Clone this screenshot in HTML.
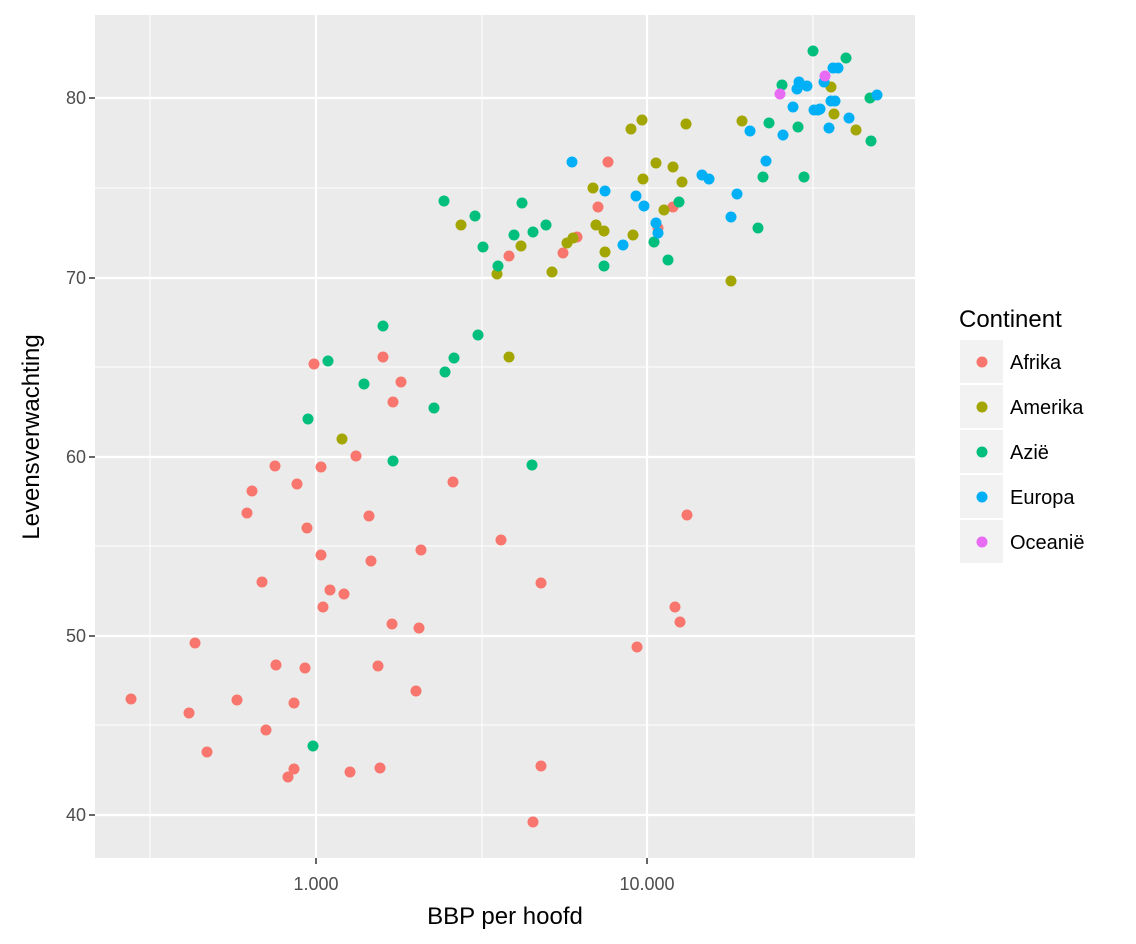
<!DOCTYPE html>
<html><head><meta charset="utf-8"><style>body{margin:0;background:#fff}svg{display:block}text{font-family:"Liberation Sans",sans-serif}</style></head><body>
<svg width="1136" height="944" xmlns="http://www.w3.org/2000/svg">
<rect x="95" y="15" width="820" height="843" fill="#EBEBEB"/>
<g stroke="#fff" stroke-width="1">
<line x1="95" x2="915" y1="188" y2="188"/><line x1="95" x2="915" y1="367" y2="367"/><line x1="95" x2="915" y1="546" y2="546"/><line x1="95" x2="915" y1="725" y2="725"/>
<line y1="15" y2="858" x1="150" x2="150"/><line y1="15" y2="858" x1="482" x2="482"/><line y1="15" y2="858" x1="813" x2="813"/>
</g>
<g stroke="#fff" stroke-width="2.2">
<line x1="95" x2="915" y1="98" y2="98"/><line x1="95" x2="915" y1="278" y2="278"/><line x1="95" x2="915" y1="457" y2="457"/><line x1="95" x2="915" y1="636" y2="636"/><line x1="95" x2="915" y1="815" y2="815"/>
<line y1="15" y2="858" x1="316" x2="316"/><line y1="15" y2="858" x1="647" x2="647"/>
</g>
<g stroke="#333" stroke-width="1.5">
<line x1="89" x2="95" y1="98" y2="98"/><line x1="89" x2="95" y1="278" y2="278"/><line x1="89" x2="95" y1="457" y2="457"/><line x1="89" x2="95" y1="636" y2="636"/><line x1="89" x2="95" y1="815" y2="815"/>
<line y1="858" y2="864" x1="316" x2="316"/><line y1="858" y2="864" x1="647" x2="647"/>
</g>
<g fill="#4D4D4D" font-size="18" text-anchor="end">
<text x="86" y="104">80</text><text x="86" y="284">70</text><text x="86" y="463">60</text><text x="86" y="642">50</text><text x="86" y="821">40</text>
</g>
<g fill="#4D4D4D" font-size="18" text-anchor="middle">
<text x="316" y="890">1.000</text><text x="647" y="890">10.000</text>
</g>
<text x="505" y="924" font-size="24" text-anchor="middle" fill="#000">BBP per hoofd</text>
<text transform="translate(39,437) rotate(-90)" font-size="24" text-anchor="middle" fill="#000">Levensverwachting</text>
<g fill="#F8766D">
<circle cx="131" cy="699" r="5.5"/><circle cx="189" cy="713" r="5.5"/><circle cx="195" cy="643" r="5.5"/><circle cx="207" cy="752" r="5.5"/><circle cx="237" cy="700" r="5.5"/><circle cx="266" cy="730" r="5.5"/><circle cx="262" cy="582" r="5.5"/><circle cx="247" cy="513" r="5.5"/><circle cx="252" cy="491" r="5.5"/><circle cx="275" cy="466" r="5.5"/><circle cx="288" cy="777" r="5.5"/><circle cx="294" cy="769" r="5.5"/><circle cx="297" cy="484" r="5.5"/><circle cx="307" cy="528" r="5.5"/><circle cx="305" cy="668" r="5.5"/><circle cx="294" cy="703" r="5.5"/><circle cx="276" cy="665" r="5.5"/><circle cx="314" cy="364" r="5.5"/><circle cx="321" cy="467" r="5.5"/><circle cx="321" cy="555" r="5.5"/><circle cx="323" cy="607" r="5.5"/><circle cx="330" cy="590" r="5.5"/><circle cx="344" cy="594" r="5.5"/><circle cx="356" cy="456" r="5.5"/><circle cx="350" cy="772" r="5.5"/><circle cx="369" cy="516" r="5.5"/><circle cx="371" cy="561" r="5.5"/><circle cx="378" cy="666" r="5.5"/><circle cx="383" cy="357" r="5.5"/><circle cx="393" cy="402" r="5.5"/><circle cx="401" cy="382" r="5.5"/><circle cx="392" cy="624" r="5.5"/><circle cx="380" cy="768" r="5.5"/><circle cx="421" cy="550" r="5.5"/><circle cx="419" cy="628" r="5.5"/><circle cx="416" cy="691" r="5.5"/><circle cx="453" cy="482" r="5.5"/><circle cx="501" cy="540" r="5.5"/><circle cx="509" cy="256" r="5.5"/><circle cx="541" cy="583" r="5.5"/><circle cx="541" cy="766" r="5.5"/><circle cx="533" cy="822" r="5.5"/><circle cx="563" cy="253" r="5.5"/><circle cx="577" cy="237" r="5.5"/><circle cx="598" cy="207" r="5.5"/><circle cx="608" cy="162" r="5.5"/><circle cx="637" cy="647" r="5.5"/><circle cx="658" cy="228" r="5.5"/><circle cx="673" cy="207" r="5.5"/><circle cx="675" cy="607" r="5.5"/><circle cx="680" cy="622" r="5.5"/><circle cx="687" cy="515" r="5.5"/>
</g>
<g fill="#A3A500">
<circle cx="342" cy="439" r="5.5"/><circle cx="461" cy="225" r="5.5"/><circle cx="497" cy="274" r="5.5"/><circle cx="509" cy="357" r="5.5"/><circle cx="521" cy="246" r="5.5"/><circle cx="552" cy="272" r="5.5"/><circle cx="567" cy="243" r="5.5"/><circle cx="573" cy="238" r="5.5"/><circle cx="593" cy="188" r="5.5"/><circle cx="596" cy="225" r="5.5"/><circle cx="604" cy="231" r="5.5"/><circle cx="605" cy="252" r="5.5"/><circle cx="633" cy="235" r="5.5"/><circle cx="631" cy="129" r="5.5"/><circle cx="642" cy="120" r="5.5"/><circle cx="643" cy="179" r="5.5"/><circle cx="656" cy="163" r="5.5"/><circle cx="664" cy="210" r="5.5"/><circle cx="673" cy="167" r="5.5"/><circle cx="682" cy="182" r="5.5"/><circle cx="686" cy="124" r="5.5"/><circle cx="731" cy="281" r="5.5"/><circle cx="742" cy="121" r="5.5"/><circle cx="831" cy="87" r="5.5"/><circle cx="856" cy="130" r="5.5"/><circle cx="834" cy="114" r="5.5"/>
</g>
<g fill="#00BF7D">
<circle cx="308" cy="419" r="5.5"/><circle cx="313" cy="746" r="5.5"/><circle cx="328" cy="361" r="5.5"/><circle cx="364" cy="384" r="5.5"/><circle cx="383" cy="326" r="5.5"/><circle cx="393" cy="461" r="5.5"/><circle cx="434" cy="408" r="5.5"/><circle cx="445" cy="372" r="5.5"/><circle cx="444" cy="201" r="5.5"/><circle cx="454" cy="358" r="5.5"/><circle cx="475" cy="216" r="5.5"/><circle cx="478" cy="335" r="5.5"/><circle cx="483" cy="247" r="5.5"/><circle cx="498" cy="266" r="5.5"/><circle cx="514" cy="235" r="5.5"/><circle cx="522" cy="203" r="5.5"/><circle cx="532" cy="465" r="5.5"/><circle cx="533" cy="232" r="5.5"/><circle cx="546" cy="225" r="5.5"/><circle cx="604" cy="266" r="5.5"/><circle cx="654" cy="242" r="5.5"/><circle cx="668" cy="260" r="5.5"/><circle cx="679" cy="202" r="5.5"/><circle cx="758" cy="228" r="5.5"/><circle cx="763" cy="177" r="5.5"/><circle cx="769" cy="123" r="5.5"/><circle cx="782" cy="85" r="5.5"/><circle cx="798" cy="127" r="5.5"/><circle cx="804" cy="177" r="5.5"/><circle cx="813" cy="51" r="5.5"/><circle cx="846" cy="58" r="5.5"/><circle cx="870" cy="98" r="5.5"/><circle cx="871" cy="141" r="5.5"/>
</g>
<g fill="#00B0F6">
<circle cx="572" cy="162" r="5.5"/><circle cx="605" cy="191" r="5.5"/><circle cx="623" cy="245" r="5.5"/><circle cx="636" cy="196" r="5.5"/><circle cx="644" cy="206" r="5.5"/><circle cx="656" cy="223" r="5.5"/><circle cx="658" cy="233" r="5.5"/><circle cx="702" cy="175" r="5.5"/><circle cx="709" cy="179" r="5.5"/><circle cx="731" cy="217" r="5.5"/><circle cx="737" cy="194" r="5.5"/><circle cx="750" cy="131" r="5.5"/><circle cx="766" cy="161" r="5.5"/><circle cx="783" cy="135" r="5.5"/><circle cx="793" cy="107" r="5.5"/><circle cx="799" cy="82" r="5.5"/><circle cx="797" cy="89" r="5.5"/><circle cx="807" cy="86" r="5.5"/><circle cx="814" cy="110" r="5.5"/><circle cx="820" cy="109" r="5.5"/><circle cx="824" cy="82" r="5.5"/><circle cx="829" cy="128" r="5.5"/><circle cx="831" cy="101" r="5.5"/><circle cx="835" cy="101" r="5.5"/><circle cx="833" cy="68" r="5.5"/><circle cx="838" cy="68" r="5.5"/><circle cx="849" cy="118" r="5.5"/><circle cx="877" cy="95" r="5.5"/><circle cx="818" cy="110" r="5.5"/>
</g>
<g fill="#E76BF3">
<circle cx="780" cy="94" r="5.5"/><circle cx="825" cy="76" r="5.5"/>
</g>
<text x="959" y="327" font-size="24" fill="#000">Continent</text>
<g fill="#F2F2F2">
<rect x="960" y="340" width="43" height="43"/><rect x="960" y="385" width="43" height="43"/><rect x="960" y="430" width="43" height="43"/><rect x="960" y="475" width="43" height="43"/><rect x="960" y="520" width="43" height="43"/>
</g>
<circle cx="982" cy="362" r="5.5" fill="#F8766D"/><circle cx="982" cy="407" r="5.5" fill="#A3A500"/><circle cx="982" cy="452" r="5.5" fill="#00BF7D"/><circle cx="982" cy="497" r="5.5" fill="#00B0F6"/><circle cx="982" cy="542" r="5.5" fill="#E76BF3"/>
<g font-size="20" fill="#000">
<text x="1010" y="369">Afrika</text><text x="1010" y="414">Amerika</text><text x="1010" y="459">Azië</text><text x="1010" y="504">Europa</text><text x="1010" y="549">Oceanië</text>
</g>
</svg>
</body></html>
